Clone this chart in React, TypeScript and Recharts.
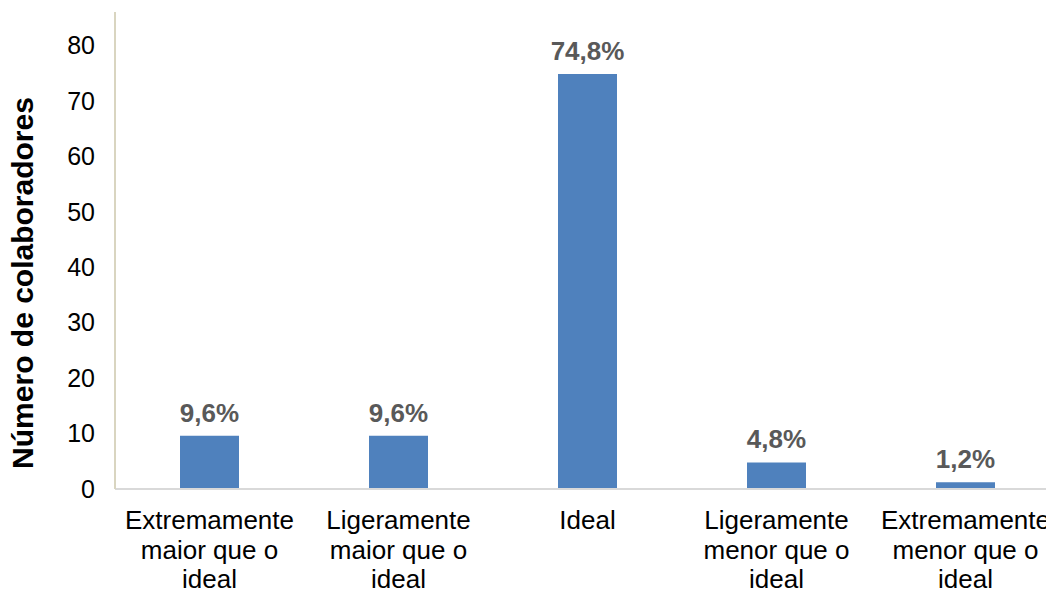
import { Bar, BarChart, LabelList, XAxis, YAxis } from "recharts";

const categories = [
  "Extremamente\nmaior que o\nideal",
  "Ligeramente\nmaior que o\nideal",
  "Ideal",
  "Ligeramente\nmenor que o\nideal",
  "Extremamente\nmenor que o\nideal",
];
const values = [9.6, 9.6, 74.8, 4.8, 1.2];
const valueLabels = ["9,6%", "9,6%", "74,8%", "4,8%", "1,2%"];
const yTicks = [0, 10, 20, 30, 40, 50, 60, 70, 80];

const data = categories.map((c, i) => ({ name: c, value: values[i], label: valueLabels[i] }));

const FONT = "'Liberation Sans', Arial, sans-serif";

function CategoryTick({ x, y, payload }: any) {
  const lines = String(payload.value).split("\n");
  return (
    <text x={x} y={y} textAnchor="middle" fontFamily={FONT} fontSize={26} fill="#000">
      {lines.map((l, i) => (
        <tspan key={i} x={x} dy={i === 0 ? 32 : 29.5}>
          {l}
        </tspan>
      ))}
    </text>
  );
}

// y title sits lower than the plot centre in the original
const YTitle = () => (
  <text
    x={33}
    y={283}
    transform="rotate(-90 33 283)"
    textAnchor="middle"
    fontFamily={FONT}
    fontSize={30}
    fontWeight="bold"
    fill="#000"
  >
    Número de colaboradores
  </text>
);

export default function App() {
  return (
    <div style={{ position: "absolute", left: 0, top: 0, width: 1046, height: 594, overflow: "hidden", background: "#fff" }}>
      <BarChart width={1080} height={594} data={data} margin={{ top: 12, right: 20, left: 0, bottom: 0 }} barSize={59}>
        <XAxis
          dataKey="name"
          height={105}
          interval={0}
          tickLine={false}
          axisLine={{ stroke: "#d9d9d9", strokeWidth: 2 }}
          tick={<CategoryTick />}
        />
        <YAxis
          width={115}
          domain={[0, 86]}
          ticks={yTicks}
          tickLine={false}
          tickSize={0}
          tickMargin={20}
          axisLine={{ stroke: "#d9d5c0", strokeWidth: 2 }}
          tick={{ fontFamily: FONT, fontSize: 25, fill: "#000" }}
          label={{ content: () => <YTitle /> }}
        />
        <Bar dataKey="value" fill="#4f81bd" isAnimationActive={false}>
          <LabelList
            dataKey="label"
            position="top"
            offset={14}
            style={{ fontFamily: FONT, fontSize: 26, fontWeight: "bold", fill: "#595959" }}
          />
        </Bar>
      </BarChart>
    </div>
  );
}
